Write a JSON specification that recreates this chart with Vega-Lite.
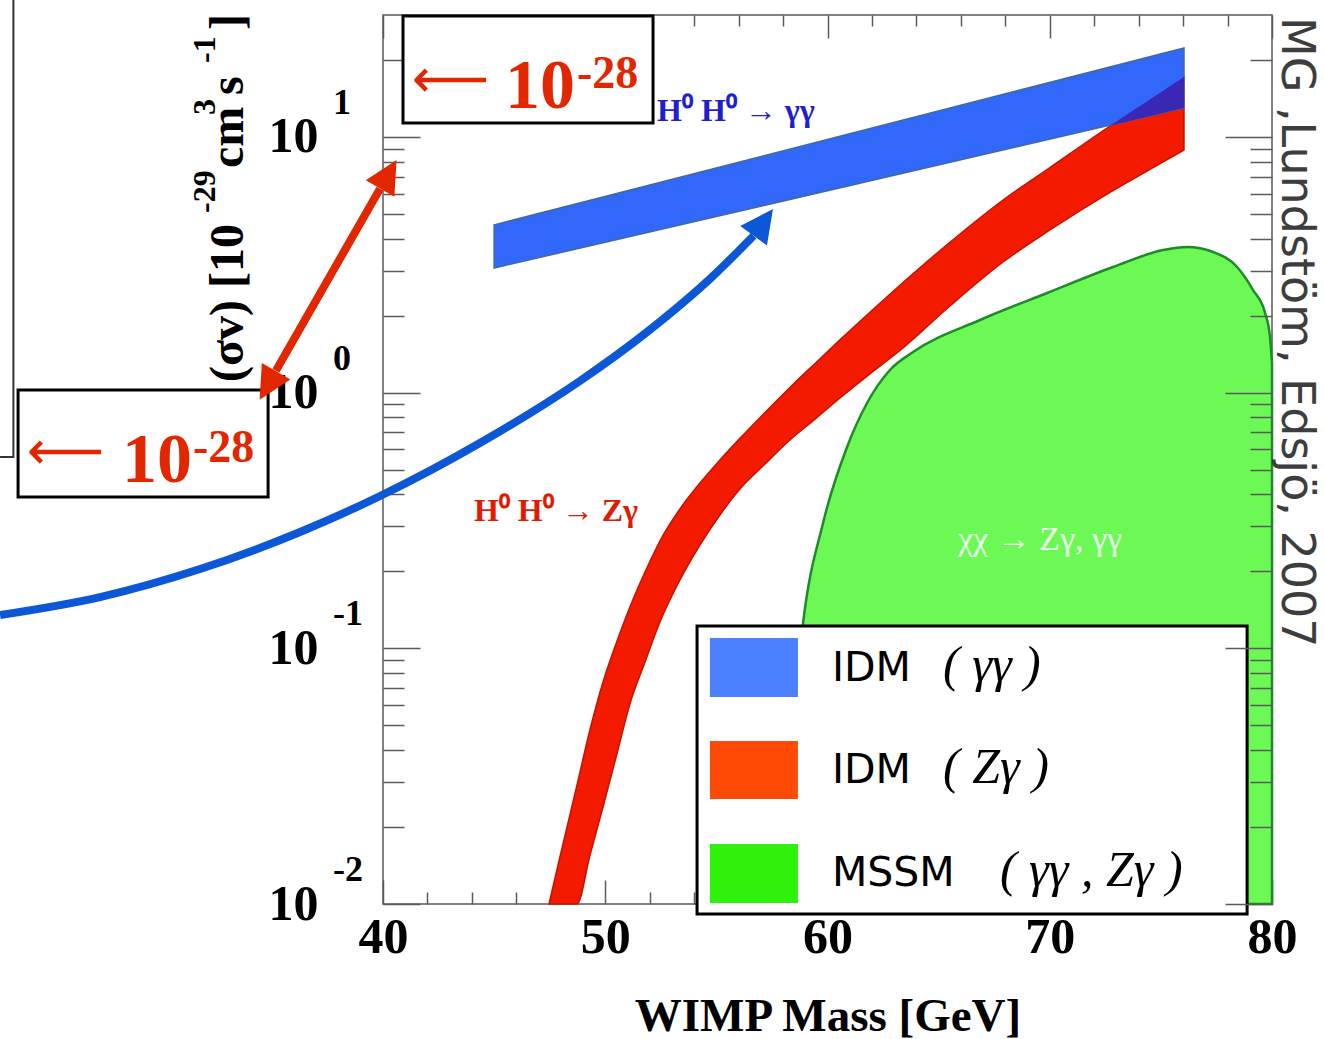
{
  "$schema": "https://vega.github.io/schema/vega-lite/v6.json",
  "width": 889,
  "height": 889,
  "autosize": {"type": "none"},
  "padding": {"left": 383, "top": 15, "right": 52, "bottom": 135},
  "background": "white",
  "config": {"view": {"stroke": "#5a5a5a", "strokeWidth": 1.5}},
  "datasets": {
    "mssm": [
      {"m": 57.64, "s": 0.01}, {"m": 58.31, "s": 0.03657}, {"m": 58.9, "s": 0.1256}, {"m": 59.8, "s": 0.3092},
      {"m": 60.88, "s": 0.6131}, {"m": 61.78, "s": 0.911}, {"m": 62.81, "s": 1.226}, {"m": 63.85, "s": 1.442},
      {"m": 66.86, "s": 1.924}, {"m": 69.88, "s": 2.454}, {"m": 72.85, "s": 3.101}, {"m": 75.1, "s": 3.613},
      {"m": 76.18, "s": 3.713}, {"m": 77.35, "s": 3.549}, {"m": 78.43, "s": 3.101}, {"m": 79.15, "s": 2.52},
      {"m": 79.69, "s": 2.049}, {"m": 79.91, "s": 1.651}, {"m": 80.0, "s": 1.306}
    ],
    "idm_zg": [
      {"m": 47.47, "s": 0.01, "s2": 0.01}, {"m": 47.96, "s": 0.01527, "s2": 0.01}, {"m": 48.73, "s": 0.0292, "s2": 0.01},
      {"m": 49.31, "s": 0.04792, "s2": 0.01548}, {"m": 49.9, "s": 0.07384, "s2": 0.02395}, {"m": 50.53, "s": 0.1068, "s2": 0.03876},
      {"m": 51.11, "s": 0.1451, "s2": 0.06057}, {"m": 51.79, "s": 0.1988, "s2": 0.0884}, {"m": 52.46, "s": 0.2629, "s2": 0.1267},
      {"m": 53.36, "s": 0.3506, "s2": 0.185}, {"m": 54.26, "s": 0.4431, "s2": 0.2535}, {"m": 55.16, "s": 0.5451, "s2": 0.3322},
      {"m": 56.06, "s": 0.6625, "s2": 0.4199}, {"m": 57.19, "s": 0.8371, "s2": 0.5258}, {"m": 58.31, "s": 1.048, "s2": 0.6529},
      {"m": 59.44, "s": 1.301, "s2": 0.7874}, {"m": 60.56, "s": 1.608, "s2": 0.953}, {"m": 61.91, "s": 2.062, "s2": 1.185},
      {"m": 63.26, "s": 2.63, "s2": 1.462}, {"m": 65.51, "s": 3.874, "s2": 2.183}, {"m": 67.9, "s": 5.669, "s2": 3.243},
      {"m": 70.01, "s": 7.597, "s2": 4.328}, {"m": 72.71, "s": 11.04, "s2": 6.074}, {"m": 74.51, "s": 14.02, "s2": 7.469},
      {"m": 76.04, "s": 17.16, "s2": 8.895}
    ],
    "idm_gg": [
      {"m": 45.0, "s": 4.53, "s2": 3.073},
      {"m": 76.04, "s": 22.28, "s2": 12.98}
    ],
    "overlap": [
      {"m": 72.71, "s": 11.06, "s2": 11.06},
      {"m": 76.04, "s": 17.16, "s2": 12.98}
    ],
    "curve": [
      {"m": 22.77, "s": 0.135}, {"m": 27.27, "s": 0.1587}, {"m": 31.77, "s": 0.2043}, {"m": 36.27, "s": 0.2851},
      {"m": 39.87, "s": 0.3942}, {"m": 44.36, "s": 0.6355}, {"m": 48.86, "s": 1.111}, {"m": 51.88, "s": 1.727},
      {"m": 54.85, "s": 2.86}, {"m": 56.675, "s": 4.111}
    ],
    "legend": [
      {"series": "IDM (γγ)", "name": "IDM", "math": "(  γγ  )", "m": 54.71, "m2": 58.67, "s": 0.1097, "s2": 0.0645, "mn": 60.2, "base": 0.07451, "mm": 65.2},
      {"series": "IDM (Zγ)", "name": "IDM", "math": "(  Zγ  )", "m": 54.71, "m2": 58.67, "s": 0.0434, "s2": 0.02575, "mn": 60.2, "base": 0.02973, "mm": 65.2},
      {"series": "MSSM (γγ, Zγ)", "name": "MSSM", "math": "(  γγ ,  Zγ  )", "m": 54.71, "m2": 58.67, "s": 0.01716, "s2": 0.01009, "mn": 60.2, "base": 0.01176, "mm": 67.76}
    ]
  },
  "encoding": {
    "x": {"field": "m", "type": "quantitative", "scale": {"domain": [40, 80], "nice": false, "zero": false}, "axis": null},
    "y": {"field": "s", "type": "quantitative", "scale": {"type": "log", "domain": [0.01, 30], "nice": false}, "axis": null}
  },
  "resolve": {"axis": {"x": "independent", "y": "independent"}},
  "layer": [
    {
      "data": {"name": "mssm"},
      "mark": {"type": "area", "interpolate": "monotone", "fill": "#6cf956", "stroke": "#1f8a2a", "strokeWidth": 2.5, "opacity": 1},
      "encoding": {
        "x": {"field": "m", "type": "quantitative", "scale": {"domain": [40, 80], "nice": false, "zero": false},
          "axis": {"orient": "bottom", "values": [40, 50, 60, 70, 80], "format": "d", "ticks": false, "domain": false, "grid": false,
            "labelFont": "Liberation Serif", "labelFontWeight": "bold", "labelFontSize": 50, "labelColor": "#000", "labelPadding": 8,
            "labelFlush": false, "labelOverlap": false, "labelBound": false, "labelBaseline": "top",
            "title": "WIMP Mass [GeV]", "titleFont": "Liberation Serif", "titleFontWeight": "bold", "titleFontSize": 47, "titleColor": "#000", "titlePadding": 31}},
        "y": {"field": "s", "type": "quantitative", "scale": {"type": "log", "domain": [0.01, 30], "nice": false},
          "axis": {"orient": "left", "values": [0.01, 0.1, 1, 10], "labelExpr": "'10'", "ticks": false, "domain": false, "grid": false,
            "labelFont": "Liberation Serif", "labelFontWeight": "bold", "labelFontSize": 50, "labelColor": "#000", "labelPadding": 65,
            "labelFlush": false, "labelOverlap": false, "labelBound": false, "labelBaseline": "middle", "title": null}},
        "y2": {"datum": 0.01}
      }
    },
    {
      "data": {"name": "idm_zg"},
      "mark": {"type": "area", "interpolate": "monotone", "fill": "#f41a00", "stroke": "#c51300", "strokeWidth": 1.5, "opacity": 1},
      "encoding": {
        "x": {"field": "m", "type": "quantitative", "scale": {"domain": [40, 80], "nice": false, "zero": false},
          "axis": {"orient": "bottom", "values": [40, 50, 60, 70, 80], "labels": false, "domain": false, "grid": false, "tickSize": -24, "tickColor": "#5a5a5a", "tickWidth": 1.5, "title": null}},
        "y": {"field": "s", "type": "quantitative", "scale": {"type": "log", "domain": [0.01, 30], "nice": false},
          "axis": {"orient": "left", "values": [0.01, 0.1, 1, 10], "labels": false, "domain": false, "grid": false, "tickSize": -37, "tickColor": "#5a5a5a", "tickWidth": 1.5, "title": null}},
        "y2": {"field": "s2"}
      }
    },
    {
      "data": {"name": "idm_gg"},
      "mark": {"type": "area", "fill": "#3168fa", "stroke": "#3f6a9c", "strokeWidth": 1.5, "opacity": 1},
      "encoding": {
        "x": {"field": "m", "type": "quantitative", "scale": {"domain": [40, 80], "nice": false, "zero": false},
          "axis": {"orient": "bottom", "values": [42, 44, 46, 48, 52, 54, 56, 58, 62, 64, 66, 68, 72, 74, 76, 78], "labels": false, "domain": false, "grid": false, "tickSize": -12, "tickColor": "#5a5a5a", "tickWidth": 1.5, "title": null}},
        "y": {"field": "s", "type": "quantitative", "scale": {"type": "log", "domain": [0.01, 30], "nice": false},
          "axis": {"orient": "left", "values": [0.02, 0.03, 0.04, 0.05, 0.06, 0.07, 0.08, 0.09, 0.2, 0.3, 0.4, 0.5, 0.6, 0.7, 0.8, 0.9, 2, 3, 4, 5, 6, 7, 8, 9, 20], "labels": false, "domain": false, "grid": false, "tickSize": -21, "tickColor": "#5a5a5a", "tickWidth": 1.5, "title": null}},
        "y2": {"field": "s2"}
      }
    },
    {
      "data": {"name": "overlap"},
      "mark": {"type": "area", "fill": "#3a27b3", "opacity": 1},
      "encoding": {
        "x": {"field": "m", "type": "quantitative", "scale": {"domain": [40, 80], "nice": false, "zero": false},
          "axis": {"orient": "top", "values": [40, 50, 60, 70, 80], "labels": false, "domain": false, "grid": false, "tickSize": -23, "tickColor": "#5a5a5a", "tickWidth": 1.5, "title": null}},
        "y": {"field": "s", "type": "quantitative", "scale": {"type": "log", "domain": [0.01, 30], "nice": false},
          "axis": {"orient": "right", "values": [0.01, 0.1, 1, 10], "labels": false, "domain": false, "grid": false, "tickSize": -47, "tickColor": "#5a5a5a", "tickWidth": 1.5, "title": null, "zindex": 1}},
        "y2": {"field": "s2"}
      }
    },
    {
      "data": {"name": "legend"},
      "mark": {"type": "rect", "fill": "white", "strokeWidth": 0, "opacity": 0},
      "encoding": {
        "x": {"field": "m", "type": "quantitative", "scale": {"domain": [40, 80], "nice": false, "zero": false},
          "axis": {"orient": "top", "values": [42, 44, 46, 48, 52, 54, 56, 58, 62, 64, 66, 68, 72, 74, 76, 78], "labels": false, "domain": false, "grid": false, "tickSize": -11, "tickColor": "#5a5a5a", "tickWidth": 1.5, "title": null}},
        "y": {"field": "s", "type": "quantitative", "scale": {"type": "log", "domain": [0.01, 30], "nice": false},
          "axis": {"orient": "right", "values": [0.02, 0.03, 0.04, 0.05, 0.06, 0.07, 0.08, 0.09, 0.2, 0.3, 0.4, 0.5, 0.6, 0.7, 0.8, 0.9, 2, 3, 4, 5, 6, 7, 8, 9, 20], "labels": false, "domain": false, "grid": false, "tickSize": -22, "tickColor": "#5a5a5a", "tickWidth": 1.5, "title": null, "zindex": 1}},
        "x2": {"field": "m2"},
        "y2": {"field": "s2"}
      }
    },
    {
      "data": {"values": [
        {"m": 40.9, "m2": 52.15, "s": 29.73, "s2": 11.34},
        {"m": 23.58, "m2": 34.83, "s": 1.024, "s2": 0.3906}
      ]},
      "mark": {"type": "rect", "fill": "white", "stroke": "black", "strokeWidth": 3, "clip": false},
      "encoding": {"x2": {"field": "m2"}, "y2": {"field": "s2"}}
    },
    {
      "data": {"values": [
        {"i": 0, "m": 23.37, "s": 34.35}, {"i": 1, "m": 23.37, "s": 0.5602}, {"i": 2, "m": 22.77, "s": 0.5602}
      ]},
      "mark": {"type": "line", "stroke": "#333333", "strokeWidth": 2, "clip": false},
      "encoding": {"order": {"field": "i", "type": "quantitative"}}
    },
    {
      "data": {"name": "curve"},
      "mark": {"type": "line", "interpolate": "monotone", "stroke": "#0b57d6", "strokeWidth": 8, "clip": false},
      "encoding": {}
    },
    {
      "data": {"values": [{"m": 57.11, "s": 4.636}]},
      "mark": {"type": "point", "shape": "M0,-1L-1,1L1,1Z", "size": 1089, "filled": true, "color": "#0b57d6", "opacity": 1, "angle": 36, "clip": false},
      "encoding": {}
    },
    {
      "data": {"values": [{"m": 35.18, "s": 1.218}, {"m": 39.865, "s": 6.276}]},
      "mark": {"type": "line", "stroke": "#e12600", "strokeWidth": 8, "clip": false},
      "encoding": {}
    },
    {
      "data": {"values": [{"m": 40.24, "s": 7.145}]},
      "mark": {"type": "point", "shape": "M0,-1L-1,1L1,1Z", "size": 1089, "filled": true, "color": "#e12600", "opacity": 1, "angle": 30, "clip": false},
      "encoding": {}
    },
    {
      "data": {"values": [{"m": 34.82, "s": 1.067}]},
      "mark": {"type": "point", "shape": "M0,-1L-1,1L1,1Z", "size": 1089, "filled": true, "color": "#e12600", "opacity": 1, "angle": 210, "clip": false},
      "encoding": {}
    },
    {
      "data": {"values": [{"m": 41.3, "s": 14.33}, {"m": 23.98, "s": 0.5028}]},
      "mark": {"type": "text", "align": "left", "baseline": "alphabetic", "font": "DejaVu Sans", "fontSize": 54, "color": "#e12600", "clip": false},
      "encoding": {"text": {"value": "⟵"}}
    },
    {
      "data": {"values": [{"m": 45.49, "s": 12.98}, {"m": 28.26, "s": 0.4472}]},
      "mark": {"type": "text", "align": "left", "baseline": "alphabetic", "font": "Liberation Serif", "fontWeight": "bold", "fontSize": 70, "color": "#e12600", "clip": false},
      "encoding": {"text": {"value": "10"}}
    },
    {
      "data": {"values": [{"m": 48.73, "s": 15.55}, {"m": 31.45, "s": 0.5356}]},
      "mark": {"type": "text", "align": "left", "baseline": "alphabetic", "font": "Liberation Serif", "fontWeight": "bold", "fontSize": 46, "color": "#e12600", "clip": false},
      "encoding": {"text": {"value": "-28"}}
    },
    {
      "data": {"values": [{"m": 52.33, "s": 11.55, "t": "H⁰ H⁰  → γγ"}]},
      "mark": {"type": "text", "align": "left", "baseline": "alphabetic", "font": "Liberation Serif", "fontWeight": "bold", "fontSize": 32, "color": "#1f1fd0"},
      "encoding": {"text": {"field": "t"}}
    },
    {
      "data": {"values": [{"m": 44.09, "s": 0.3148, "t": "H⁰ H⁰  → Zγ"}]},
      "mark": {"type": "text", "align": "left", "baseline": "alphabetic", "font": "Liberation Serif", "fontWeight": "bold", "fontSize": 32, "color": "#e01b00"},
      "encoding": {"text": {"field": "t"}}
    },
    {
      "data": {"values": [{"m": 69.56, "s": 0.2424, "t": "χχ → Zγ, γγ"}]},
      "mark": {"type": "text", "align": "center", "baseline": "alphabetic", "font": "Liberation Serif", "fontSize": 34, "color": "#eaffea"},
      "encoding": {"text": {"field": "t"}}
    },
    {
      "data": {"values": [{"m": 37.75, "s": 10, "e": "1"}, {"m": 37.75, "s": 1, "e": "0"}, {"m": 37.75, "s": 0.1, "e": "-1"}, {"m": 37.75, "s": 0.01, "e": "-2"}]},
      "mark": {"type": "text", "align": "left", "baseline": "alphabetic", "dy": -23, "font": "Liberation Serif", "fontWeight": "bold", "fontSize": 36, "color": "#000", "clip": false},
      "encoding": {"text": {"field": "e"}}
    },
    {
      "data": {"values": [
        {"t": "(σv) [10", "m": 33.7, "s": 1.101},
        {"t": "cm", "m": 33.7, "s": 7.562},
        {"t": "s", "m": 33.7, "s": 14.6},
        {"t": "]", "m": 33.7, "s": 26.2}
      ]},
      "mark": {"type": "text", "align": "left", "baseline": "alphabetic", "angle": 270, "font": "Liberation Serif", "fontWeight": "bold", "fontSize": 48, "color": "#000", "clip": false},
      "encoding": {"text": {"field": "t"}}
    },
    {
      "data": {"values": [
        {"t": "-29", "m": 32.44, "s": 5.044},
        {"t": "3", "m": 32.44, "s": 12.19},
        {"t": "-1", "m": 32.44, "s": 19.47}
      ]},
      "mark": {"type": "text", "align": "left", "baseline": "alphabetic", "angle": 270, "font": "Liberation Serif", "fontWeight": "bold", "fontSize": 32, "color": "#000", "clip": false},
      "encoding": {"text": {"field": "t"}}
    },
    {
      "data": {"values": [{"t": "MG ,Lundstöm, Edsjö, 2007", "m": 80.45, "s": 29.46}]},
      "mark": {"type": "text", "align": "left", "baseline": "alphabetic", "angle": 90, "font": "DejaVu Sans", "fontSize": 46, "color": "#3d3d3d", "clip": false},
      "encoding": {"text": {"field": "t"}}
    },
    {
      "data": {"values": [{"m": 54.13, "m2": 78.88, "s": 0.1223, "s2": 0.009137}]},
      "mark": {"type": "rect", "fill": "white", "stroke": "black", "strokeWidth": 3, "clip": false},
      "encoding": {"x2": {"field": "m2"}, "y2": {"field": "s2"}}
    },
    {
      "data": {"name": "legend"},
      "mark": {"type": "rect", "opacity": 1, "clip": false},
      "encoding": {
        "x2": {"field": "m2"},
        "y2": {"field": "s2"},
        "color": {"field": "series", "type": "nominal", "scale": {"domain": ["IDM (γγ)", "IDM (Zγ)", "MSSM (γγ, Zγ)"], "range": ["#4a7fff", "#ff4a06", "#2ef10c"]}, "legend": null}
      }
    },
    {
      "data": {"name": "legend"},
      "mark": {"type": "text", "align": "left", "baseline": "alphabetic", "font": "DejaVu Sans", "fontSize": 41, "color": "#000", "clip": false},
      "encoding": {"x": {"field": "mn", "type": "quantitative"}, "y": {"field": "base", "type": "quantitative"}, "text": {"field": "name"}}
    },
    {
      "data": {"name": "legend"},
      "mark": {"type": "text", "align": "left", "baseline": "alphabetic", "font": "Liberation Serif", "fontStyle": "italic", "fontSize": 50, "color": "#000", "clip": false},
      "encoding": {"x": {"field": "mm", "type": "quantitative"}, "y": {"field": "base", "type": "quantitative"}, "text": {"field": "math"}}
    }
  ]
}
